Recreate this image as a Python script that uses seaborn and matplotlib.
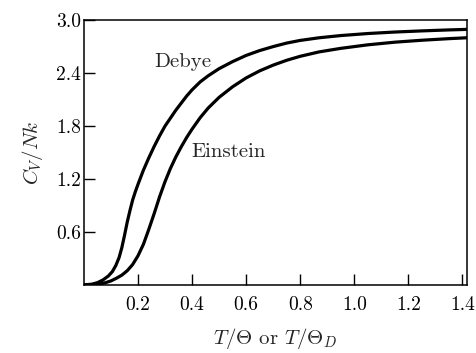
import matplotlib
matplotlib.use("Agg")
import matplotlib.pyplot as plt
import seaborn as sns
import pandas as pd

# Values
debye_x = [0.0, 0.03, 0.05, 0.07, 0.09, 0.105, 0.118, 0.13, 0.14, 0.15, 0.16, 0.17, 0.18, 0.19, 0.20,
           0.22, 0.24, 0.26, 0.28, 0.30, 0.32, 0.34, 0.36, 0.38, 0.40, 0.43, 0.46, 0.50, 0.55, 0.60,
           0.65, 0.70, 0.75, 0.80, 0.87, 0.95, 1.05, 1.15, 1.25, 1.35, 1.417]
debye_y = [0.0, 0.008, 0.025, 0.055, 0.10, 0.15, 0.22, 0.31, 0.42, 0.56, 0.71, 0.84, 0.96, 1.055, 1.14,
           1.30, 1.44, 1.57, 1.69, 1.80, 1.89, 1.98, 2.06, 2.14, 2.21, 2.30, 2.37, 2.45, 2.53, 2.60,
           2.655, 2.70, 2.74, 2.77, 2.80, 2.825, 2.848, 2.865, 2.878, 2.889, 2.895]

einstein_x = [0.0, 0.04, 0.06, 0.08, 0.10, 0.12, 0.14, 0.16, 0.18, 0.20, 0.22, 0.24, 0.26, 0.28, 0.30,
              0.32, 0.34, 0.36, 0.38, 0.40, 0.43, 0.46, 0.50, 0.55, 0.60, 0.65, 0.70, 0.75, 0.80,
              0.87, 0.95, 1.05, 1.15, 1.25, 1.35, 1.417]
einstein_y = [0.0, 0.005, 0.012, 0.025, 0.045, 0.075, 0.11, 0.16, 0.23, 0.33, 0.46, 0.63, 0.81, 1.00, 1.17,
              1.32, 1.45, 1.565, 1.67, 1.765, 1.895, 2.005, 2.125, 2.245, 2.345, 2.425, 2.49, 2.545, 2.59,
              2.64, 2.68, 2.72, 2.75, 2.772, 2.79, 2.80]

x_ticks = [0.2, 0.4, 0.6, 0.8, 1.0, 1.2, 1.4]
x_tick_labels = ["0.2", "0.4", "0.6", "0.8", "1.0", "1.2", "1.4"]
y_ticks = [0.6, 1.2, 1.8, 2.4, 3.0]
y_tick_labels = ["0.6", "1.2", "1.8", "2.4", "3.0"]

df = pd.concat([
    pd.DataFrame({"x": debye_x, "y": debye_y, "model": "Debye"}),
    pd.DataFrame({"x": einstein_x, "y": einstein_y, "model": "Einstein"}),
], ignore_index=True)

sns.set_style("ticks")
plt.rcParams["font.family"] = ["cmr10", "DejaVu Serif"]
plt.rcParams["mathtext.fontset"] = "cm"
plt.rcParams["axes.unicode_minus"] = False

fig = plt.figure(figsize=(4.77, 3.53), dpi=100)
ax = fig.add_axes([0.176, 0.193, 0.803, 0.750])

sns.lineplot(data=df, x="x", y="y", hue="model", units="model", estimator=None, sort=False,
             palette={"Debye": "black", "Einstein": "black"}, linewidth=2.3, legend=False, ax=ax)
for line in ax.get_lines():
    line.set_solid_joinstyle("round")
    line.set_solid_capstyle("round")

ax.set_xlim(0, 1.417)
ax.set_ylim(0, 3.0)
ax.set_xticks(x_ticks)
ax.set_xticklabels(x_tick_labels)
ax.set_yticks(y_ticks)
ax.set_yticklabels(y_tick_labels)
ax.tick_params(direction="in", length=8, width=1, labelsize=14, colors="black")
ax.tick_params(axis="x", pad=8)
ax.tick_params(axis="y", pad=2)
for s in ax.spines.values():
    s.set_visible(True)
    s.set_linewidth(1.1)
    s.set_color("black")

ax.set_xlabel(r"$T/\Theta$ or $T/\Theta_D$", fontsize=15, labelpad=9)
ax.set_ylabel(r"$C_V/Nk$", fontsize=15, labelpad=8)

ax.text(0.366, 2.52, "Debye", fontsize=15, ha="center", va="center")
ax.text(0.536, 1.51, "Einstein", fontsize=15, ha="center", va="center")

fig.savefig("out.png", dpi=100)
